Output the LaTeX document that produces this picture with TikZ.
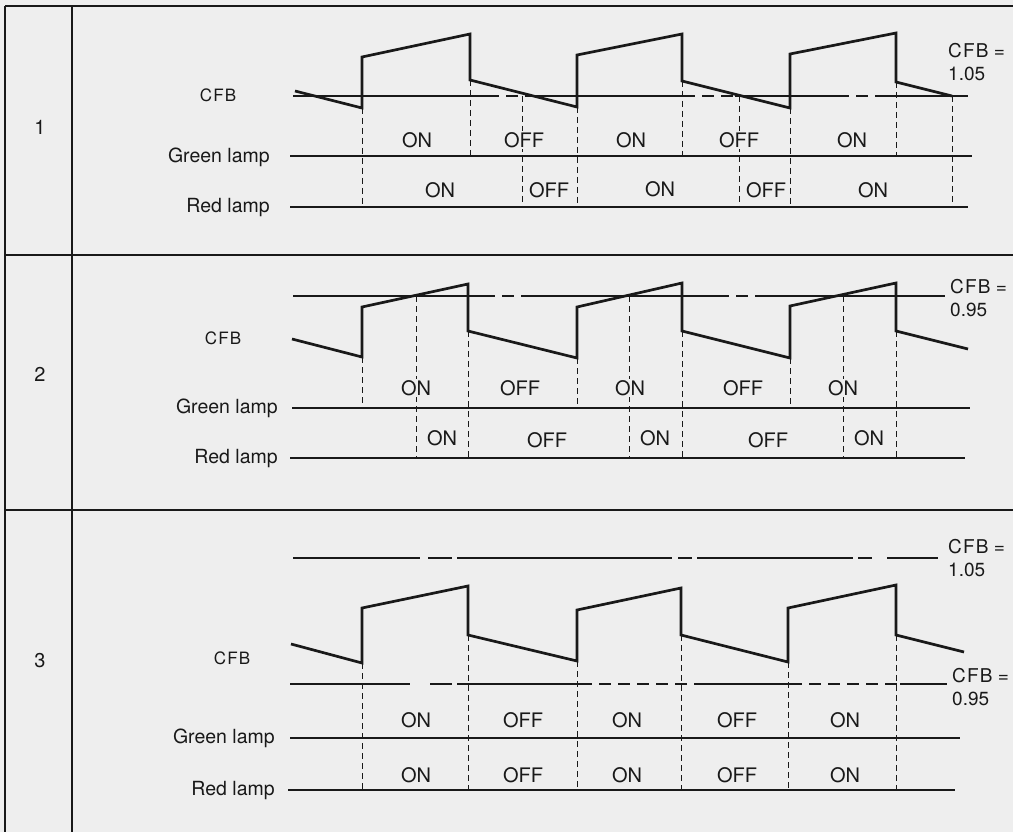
\documentclass[tikz,border=0pt]{standalone}
\usepackage{fontspec}
\setmainfont{TeX Gyre Heros}
\definecolor{bg}{RGB}{238,238,238}
\definecolor{ink}{RGB}{25,25,25}
\tikzset{
  frame/.style={line width=1.8pt, draw=ink},
  wave/.style={line width=2.7pt, draw=ink, line join=miter},
  base/.style={line width=1.3pt, draw=ink},
  onbar/.style={line width=2.9pt, draw=ink},
  guide/.style={line width=1pt, draw=ink, dash pattern=on 6pt off 4pt},
  thr/.style={line width=1.3pt, draw=ink},
  thrd/.style={thr, dash pattern=on 12pt off 7pt},
  lbl/.style={font=\fontsize{20}{22}\selectfont, text=ink, inner sep=1pt, fill=bg},
  side/.style={font=\fontsize{19.5}{22}\selectfont, text=ink, inner sep=0pt, anchor=base east},
  cfb/.style={font=\fontsize{17}{20}\selectfont, text=ink, inner sep=0pt, anchor=base},
  num/.style={font=\fontsize{20}{22}\selectfont, text=ink, inner sep=0pt, anchor=base},
  eq/.style={font=\fontsize{19}{23.5}\selectfont, text=ink, inner sep=0pt, anchor=north west, align=left},
}
\newcommand{\cfbtxt}{C\kern1.2pt F\kern1.2pt B}
\begin{document}
\begin{tikzpicture}[x=1pt,y=-1pt]
\useasboundingbox (0,0) rectangle (1013,832);
\fill[bg] (0,0) rectangle (1013,832);
% frame
\draw[frame] (5,6) -- (1013,6);
\draw[frame] (5,255) -- (1013,255);
\draw[frame] (5,510) -- (1013,510);
\draw[frame] (5,6) -- (5,832);
\draw[frame] (72,6) -- (72,832);

% ================= ROW 1 =================
% threshold CFB = 1.05
\draw[thr] (293,96) -- (487,96);
\draw[thrd] (487,96) -- (532,96);
\draw[thr] (532,96) -- (683,96);
\draw[thrd] (683,96) -- (735,96);
\draw[thr] (735,96) -- (837,96);
\draw[thrd] (837,96) -- (875,96);
\draw[thr] (875,96) -- (968,96);
% baselines
\draw[base] (290,156) -- (972,156);
\draw[base] (290,207) -- (968,207);
\draw[onbar] (362,156) -- (470,156);
\draw[onbar] (577,156) -- (682,156);
\draw[onbar] (790,156) -- (896,156);
\draw[onbar] (362,207) -- (522,207);
\draw[onbar] (577,207) -- (739,207);
\draw[onbar] (790,207) -- (952,207);
% guides
\draw[guide] (362,108) -- (362,207);
\draw[guide] (470,80) -- (470,156);
\draw[guide] (522,96) -- (522,207);
\draw[guide] (577,107) -- (577,207);
\draw[guide] (682,81) -- (682,156);
\draw[guide] (739,96) -- (739,207);
\draw[guide] (790,108) -- (790,207);
\draw[guide] (896,82) -- (896,156);
\draw[guide] (952,96) -- (952,207);
% waveform
\draw[wave] (295,91) -- (362,108) -- (362,57) -- (470,34) -- (470,80) -- (577,107) -- (577,55) -- (682,34) -- (682,81) -- (790,108) -- (790,54) -- (896,33) -- (896,82) -- (952,96);
% labels
\node[num] (n1) at (40,135) {1};
\node[cfb] (c1) at (218,102) {\cfbtxt};
\node[side] (g1) at (270,163) {Green lamp};
\node[side] (r1) at (270,213) {Red lamp};
\node[eq] (e1) at (948,43) {\cfbtxt\ =\\1.05};
\node[lbl] (g1a) at (417,140) {ON};
\node[lbl] (g1b) at (524,140) {OFF};
\node[lbl] (g1c) at (631,140) {ON};
\node[lbl] (g1d) at (739,140) {OFF};
\node[lbl] (g1e) at (852,140) {ON};
\node[lbl] (r1a) at (440,190) {ON};
\node[lbl] (r1b) at (549,190) {OFF};
\node[lbl] (r1c) at (660,189) {ON};
\node[lbl] (r1d) at (766,190) {OFF};
\node[lbl] (r1e) at (873,190) {ON};

% ================= ROW 2 =================
\draw[thr] (293,296) -- (483,296);
\draw[thrd] (483,296) -- (528,296);
\draw[thr] (528,296) -- (717,296);
\draw[thrd] (717,296) -- (760,296);
\draw[thr] (760,296) -- (945,296);
\draw[base] (292,408) -- (970,408);
\draw[base] (290,458) -- (965,458);
\draw[onbar] (362,408) -- (468,408);
\draw[onbar] (577,408) -- (682,408);
\draw[onbar] (790,408) -- (896,408);
\draw[onbar] (416,458) -- (468,458);
\draw[onbar] (629,458) -- (682,458);
\draw[onbar] (843,458) -- (896,458);
\draw[guide] (362,357) -- (362,408);
\draw[guide] (416,296) -- (416,458);
\draw[guide] (468,331) -- (468,458);
\draw[guide] (577,358) -- (577,408);
\draw[guide] (629,296) -- (629,458);
\draw[guide] (682,331) -- (682,458);
\draw[guide] (790,358) -- (790,408);
\draw[guide] (843,296) -- (843,458);
\draw[guide] (896,331) -- (896,458);
\draw[wave] (292,339) -- (362,357) -- (362,307) -- (468,284) -- (468,331) -- (577,358) -- (577,307) -- (682,283) -- (682,331) -- (790,358) -- (790,306) -- (896,283) -- (896,331) -- (968,349);
\node[num] (n2) at (40,381) {2};
\node[cfb] (c2) at (223,344) {\cfbtxt};
\node[side] (g2) at (278,413) {Green lamp};
\node[side] (r2) at (278,463) {Red lamp};
\node[eq] (e2) at (950,279) {\cfbtxt\ =\\0.95};
\node[lbl] (g2a) at (416,388) {ON};
\node[lbl] (g2b) at (520,388) {OFF};
\node[lbl] (g2c) at (630,388) {ON};
\node[lbl] (g2d) at (743,388) {OFF};
\node[lbl] (g2e) at (843,388) {ON};
\node[lbl] (r2a) at (442,438) {ON};
\node[lbl] (r2b) at (547,440) {OFF};
\node[lbl] (r2c) at (655,438) {ON};
\node[lbl] (r2d) at (768,440) {OFF};
\node[lbl] (r2e) at (869,438) {ON};

% ================= ROW 3 =================
\draw[thr] (293,558) -- (420,558);
\draw[thr] (428,558) -- (452,558);
\draw[thr] (457,558) -- (672,558);
\draw[thr] (678,558) -- (692,558);
\draw[thr] (697,558) -- (853,558);
\draw[thr] (858,558) -- (872,558);
\draw[thr] (887,558) -- (938,558);
\draw[thr] (290,684) -- (410,684);
\draw[thr] (430,684) -- (452,684);
\draw[thr] (457,684) -- (580,684);
\draw[thrd] (580,684) -- (700,684);
\draw[thr] (700,684) -- (790,684);
\draw[thrd] (790,684) -- (900,684);
\draw[thr] (900,684) -- (947,684);
\draw[base] (290,738) -- (960,738);
\draw[base] (288,790) -- (955,790);
\draw[onbar] (362,738) -- (468,738);
\draw[onbar] (577,738) -- (681,738);
\draw[onbar] (788,738) -- (896,738);
\draw[onbar] (362,790) -- (468,790);
\draw[onbar] (577,790) -- (681,790);
\draw[onbar] (788,790) -- (896,790);
\draw[guide] (362,663) -- (362,790);
\draw[guide] (468,635) -- (468,790);
\draw[guide] (577,661) -- (577,790);
\draw[guide] (681,635) -- (681,790);
\draw[guide] (788,662) -- (788,790);
\draw[guide] (896,635) -- (896,790);
\draw[wave] (291,644) -- (362,663) -- (362,608) -- (468,586) -- (468,635) -- (577,661) -- (577,610) -- (681,588) -- (681,635) -- (788,662) -- (788,608) -- (896,585) -- (896,635) -- (964,652);
\node[num] (n3) at (40,667) {3};
\node[cfb] (c3) at (232,664) {\cfbtxt};
\node[side] (g3) at (275,743) {Green lamp};
\node[side] (r3) at (275,795) {Red lamp};
\node[eq] (e3) at (948,539) {\cfbtxt\ =\\1.05};
\node[eq] (e4) at (952,668) {\cfbtxt\ =\\0.95};
\node[lbl] (g3a) at (416,720) {ON};
\node[lbl] (g3b) at (523,720) {OFF};
\node[lbl] (g3c) at (627,720) {ON};
\node[lbl] (g3d) at (737,720) {OFF};
\node[lbl] (g3e) at (845,720) {ON};
\node[lbl] (r3a) at (416,775) {ON};
\node[lbl] (r3b) at (523,775) {OFF};
\node[lbl] (r3c) at (627,775) {ON};
\node[lbl] (r3d) at (737,775) {OFF};
\node[lbl] (r3e) at (845,775) {ON};
\end{tikzpicture}
\end{document}
